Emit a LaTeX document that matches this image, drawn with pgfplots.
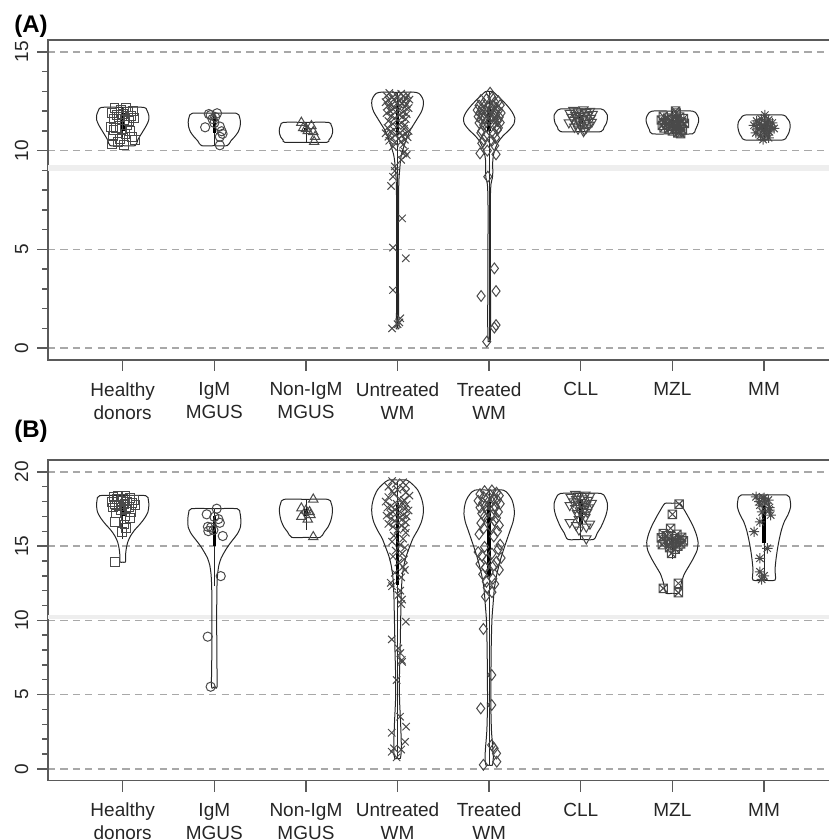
\documentclass[border=0pt]{standalone}
\usepackage{fontspec}
\setmainfont{Liberation Sans}
\usepackage{pgfplots}
\pgfplotsset{compat=1.18}
\usetikzlibrary{plotmarks}

\definecolor{ptc}{HTML}{4A4A4A}
\definecolor{gridc}{HTML}{A8A8A8}
\definecolor{bandc}{HTML}{EEEEEE}
\definecolor{axc}{HTML}{5A5A5A}
\definecolor{txtc}{HTML}{262626}

\pgfdeclareplotmark{boxx}{%
 \pgfpathrectangle{\pgfpoint{-\pgfplotmarksize}{-\pgfplotmarksize}}{\pgfpoint{2\pgfplotmarksize}{2\pgfplotmarksize}}%
 \pgfpathmoveto{\pgfpoint{-\pgfplotmarksize}{-\pgfplotmarksize}}\pgfpathlineto{\pgfpoint{\pgfplotmarksize}{\pgfplotmarksize}}%
 \pgfpathmoveto{\pgfpoint{-\pgfplotmarksize}{\pgfplotmarksize}}\pgfpathlineto{\pgfpoint{\pgfplotmarksize}{-\pgfplotmarksize}}%
 \pgfusepathqstroke}
\pgfdeclareplotmark{ast8}{%
 \pgfpathmoveto{\pgfpoint{-\pgfplotmarksize}{0pt}}\pgfpathlineto{\pgfpoint{\pgfplotmarksize}{0pt}}%
 \pgfpathmoveto{\pgfpoint{0pt}{-\pgfplotmarksize}}\pgfpathlineto{\pgfpoint{0pt}{\pgfplotmarksize}}%
 \pgfpathmoveto{\pgfpoint{-.7071\pgfplotmarksize}{-.7071\pgfplotmarksize}}\pgfpathlineto{\pgfpoint{.7071\pgfplotmarksize}{.7071\pgfplotmarksize}}%
 \pgfpathmoveto{\pgfpoint{-.7071\pgfplotmarksize}{.7071\pgfplotmarksize}}\pgfpathlineto{\pgfpoint{.7071\pgfplotmarksize}{-.7071\pgfplotmarksize}}%
 \pgfusepathqstroke}

\pgfplotsset{
 vio/.style={black!85, line width=0.5pt, no marks, smooth, tension=0.45},
 pts/.style={only marks, ptc, line width=0.5pt, mark options={solid, fill=none}},
 whisk/.style={black!85, line width=0.4pt, no marks},
 iqr/.style={black, line width=1.8pt, no marks},
 panel/.style={
  scale only axis, width=393.5pt,
  xmin=0.1846, xmax=8.775,
  xtick={1,...,8},
  xticklabels={{Healthy\\donors},{IgM\\MGUS},{Non-IgM\\MGUS},{Untreated\\WM},{Treated\\WM},CLL,MZL,MM},
  xticklabel style={align=center, font=\fontsize{9.5}{11.5}\selectfont, text=txtc, inner sep=0pt, yshift=-5.5pt},
  yticklabel style={rotate=90, anchor=south, font=\fontsize{9.5}{11.5}\selectfont, text=txtc, inner sep=0pt, yshift=4.2pt},
  /pgf/number format/assume math mode=true,
  tick pos=left, tick align=outside,
  major tick length=5.5pt, minor tick length=3pt,
  minor y tick num=4,
  ymajorgrids,
  major grid style={gridc, line width=0.7pt, dash pattern=on 3.6pt off 2.6pt},
  axis line style={axc, line width=0.7pt},
  every tick/.style={axc, line width=0.7pt},
 },
}

\newcommand{\violin}[2]{%
 \addplot[vio] table[row sep=\\, x expr={#1+\thisrowno{0}}, y index=1] {#2};
 \addplot[vio] table[row sep=\\, x expr={#1-\thisrowno{0}}, y index=1] {#2};
}

\begin{document}
\begin{tikzpicture}
\useasboundingbox (0,0) rectangle (414.5pt,420pt);

%================ Panel A
\begin{axis}[panel, at={(24pt,240pt)}, anchor=south west, height=160pt,
 ymin=-0.6, ymax=15.6, ytick={0,5,10,15}]
\addplot[draw=none, fill=bandc] coordinates {(0,8.99) (9,8.99) (9,9.28) (0,9.28)} -- cycle;

\violin{1}{0 12.19\\0.229 12.19\\0.262 12.06\\0.284 11.80\\0.284 11.55\\0.262 11.30\\0.229 11.04\\0.196 10.79\\0.164 10.54\\0.136 10.25\\0 10.25\\}
\violin{2}{0 11.89\\0.24 11.89\\0.275 11.70\\0.285 11.45\\0.28 11.20\\0.26 10.94\\0.22 10.69\\0.18 10.49\\0.14 10.25\\0 10.25\\}
\violin{3}{0 11.43\\0.245 11.43\\0.275 11.30\\0.29 11.10\\0.29 10.90\\0.275 10.69\\0.25 10.54\\0.23 10.42\\0 10.42\\}
\violin{4}{0 12.95\\0.20 12.95\\0.25 12.82\\0.28 12.56\\0.28 12.26\\0.26 11.96\\0.22 11.65\\0.18 11.35\\0.14 11.05\\0.11 10.74\\0.085 10.44\\0.065 10.14\\0.045 9.84\\0.033 9.53\\0.025 9.12\\0.015 8.52\\0.011 7.50\\0.01 4.46\\0.011 1.93\\0.015 1.43\\0.017 1.12\\0.013 0.97\\0 0.97\\}
\violin{5}{0 12.99\\0.04 12.99\\0.08 12.82\\0.14 12.56\\0.20 12.26\\0.25 11.96\\0.28 11.65\\0.27 11.35\\0.22 11.05\\0.15 10.74\\0.10 10.44\\0.07 10.14\\0.05 9.84\\0.04 9.53\\0.038 9.22\\0.04 8.92\\0.035 8.61\\0.02 8.31\\0.013 7.50\\0.013 4.97\\0.015 2.44\\0.017 1.43\\0.013 0.67\\0.011 0.33\\0 0.33\\}
\violin{6}{0 12.11\\0.22 12.11\\0.265 11.98\\0.29 11.80\\0.29 11.60\\0.28 11.39\\0.255 11.19\\0.22 10.96\\0 10.96\\}
\violin{7}{0 12.0\\0.22 12.0\\0.265 11.85\\0.285 11.65\\0.285 11.45\\0.27 11.25\\0.25 11.05\\0.22 10.85\\0 10.85\\}
\violin{8}{0 11.80\\0.21 11.80\\0.25 11.65\\0.28 11.45\\0.285 11.17\\0.27 10.89\\0.245 10.69\\0.21 10.54\\0 10.54\\}

% whiskers and interquartile bars
\addplot[whisk] coordinates {(1,10.3) (1,12.19)};  \addplot[iqr] coordinates {(1,11.0) (1,11.9)};
\addplot[whisk] coordinates {(2,10.25) (2,11.89)}; \addplot[iqr] coordinates {(2,10.9) (2,11.8)};
\addplot[whisk] coordinates {(3,10.45) (3,11.43)}; \addplot[iqr] coordinates {(3,10.95) (3,11.15)};
\addplot[whisk] coordinates {(4,1.0) (4,12.95)};   \addplot[iqr] coordinates {(4,10.8) (4,12.4)};
\addplot[whisk] coordinates {(5,0.33) (5,12.99)};  \addplot[iqr] coordinates {(5,11.0) (5,12.2)};
\addplot[whisk] coordinates {(6,10.96) (6,12.1)};  \addplot[iqr] coordinates {(6,11.35) (6,11.8)};
\addplot[whisk] coordinates {(7,10.85) (7,12.0)};  \addplot[iqr] coordinates {(7,11.2) (7,11.6)};
\addplot[whisk] coordinates {(8,10.55) (8,11.8)};  \addplot[iqr] coordinates {(8,10.95) (8,11.35)};

% points
\addplot[pts, mark=square, mark size=2.2pt] coordinates {
(0.91,12.15) (1.04,12.18) (0.98,12.05) (1.11,12.0) (0.88,11.9) (1.06,11.95) (1.00,11.85) (0.94,11.8) (1.09,11.75) (0.96,11.7) (1.12,11.65) (0.90,11.6) (1.02,11.55) (1.07,11.5)
(0.87,11.2) (1.05,11.3) (0.99,11.1) (0.90,11.05) (1.08,11.0) (0.93,11.15)
(1.03,10.85) (0.89,10.75) (1.10,10.7) (0.97,10.6) (1.13,10.55) (0.95,10.45) (0.88,10.35) (1.01,10.3)};
\addplot[pts, mark=o, mark size=2.3pt] coordinates {
(1.90,11.18) (1.94,11.85) (1.96,11.8) (2.03,11.89) (2.01,11.7) (2.06,11.22) (2.08,10.98) (2.09,10.85) (2.06,10.7) (2.06,10.27) (2.0,11.4) (1.98,11.6)};
\addplot[pts, mark=triangle, mark size=2.7pt] coordinates {
(2.95,11.42) (3.0,11.1) (3.06,11.25) (3.08,10.95) (3.10,10.7) (3.09,10.45) (3.02,11.0) (2.97,11.15)};
\addplot[pts, mark=x, mark size=2.6pt] coordinates {
(3.91,12.92) (4.04,12.88) (3.98,12.85) (4.11,12.8) (3.88,12.78) (4.06,12.75) (4.00,12.7) (3.94,12.68) (4.09,12.65) (3.96,12.6)
(4.13,12.58) (3.90,12.55) (4.02,12.5) (4.07,12.48) (3.87,12.45) (4.05,12.4) (3.99,12.38) (4.10,12.35) (3.93,12.3) (4.03,12.28)
(3.89,12.25) (4.08,12.2) (3.97,12.18) (4.12,12.15) (3.95,12.1) (4.01,12.05) (3.92,12.0) (4.06,11.95) (3.88,11.9) (4.10,11.85)
(4.02,11.8) (3.93,11.75) (4.05,11.7) (3.97,11.65) (4.09,11.6) (3.90,11.5) (4.04,11.4) (3.95,11.35) (4.08,11.3) (4.00,11.25)
(3.89,11.15) (4.07,11.1) (3.96,11.05) (4.12,11.0) (3.92,10.95) (4.03,10.9) (3.87,10.88) (4.09,10.85) (3.98,10.8) (4.05,10.75)
(3.90,10.7) (4.11,10.68) (3.94,10.65) (4.01,10.6) (4.08,10.55) (3.91,10.5) (4.04,10.45) (3.97,10.4) (4.06,10.3) (3.95,10.2)
(4.08,9.95) (4.06,9.86) (4.10,9.78) (4.04,9.53) (3.97,9.2)
(3.97,8.97) (3.95,8.68) (3.93,8.21) (4.05,6.57) (3.95,5.09) (4.09,4.55) (3.95,2.94) (4.03,1.51) (4.00,1.21) (3.94,1.0) (4.02,1.3)};
\addplot[pts, mark=diamond, mark size=2.7pt] coordinates {
(5.01,12.93) (4.91,12.56) (5.10,12.5) (5.03,12.7) (4.97,12.6) (5.06,12.45) (4.94,12.4) (5.00,12.35) (5.12,12.3) (4.89,12.28)
(5.04,12.25) (4.98,12.2) (5.08,12.15) (4.92,12.12) (5.02,12.1) (4.87,12.05) (5.10,12.02) (4.96,12.0) (5.06,11.95) (4.90,11.92)
(5.13,11.9) (4.99,11.85) (5.07,11.82) (4.93,11.8) (5.03,11.75) (4.88,11.72) (5.11,11.7) (4.95,11.65) (5.05,11.62) (4.91,11.6)
(5.01,11.55) (5.09,11.5) (4.97,11.45) (5.12,11.42) (4.89,11.4) (5.04,11.35) (4.94,11.3) (5.08,11.25) (4.98,11.2) (5.10,11.15)
(5.09,11.05) (4.92,11.0) (4.91,10.9) (5.05,10.85) (4.96,10.75) (5.07,10.65) (4.94,10.55) (5.03,10.5) (4.92,10.37) (5.06,10.25)
(4.90,9.86) (5.075,9.81) (4.98,10.0)
(4.985,8.68) (5.057,4.04) (4.912,2.64) (5.075,2.89) (5.075,1.17) (5.057,1.04) (4.974,0.33)};
\addplot[pts, mark=triangle, mark size=2.7pt, mark options={rotate=180}] coordinates {
(6.03,12.08) (5.92,12.05) (6.10,12.0) (5.97,11.98) (6.06,11.95) (5.88,11.9) (6.01,11.88) (6.13,11.85) (5.94,11.8) (6.08,11.78)
(5.99,11.75) (6.04,11.72) (5.90,11.7) (6.11,11.65) (5.96,11.62) (6.02,11.6) (5.92,11.55) (6.07,11.52) (5.98,11.5) (6.12,11.45)
(5.87,11.42) (6.05,11.4) (5.95,11.35) (6.09,11.3) (6.00,11.25) (5.93,11.2) (6.06,11.15) (5.97,11.1) (6.04,11.05) (6.03,10.98)};
\addplot[pts, mark=boxx, mark size=2.1pt] coordinates {
(7.035,12.0) (7.04,11.9) (6.90,11.75) (7.08,11.7) (6.95,11.65) (7.12,11.62) (7.00,11.6) (6.88,11.55) (7.05,11.52) (6.97,11.5)
(7.10,11.45) (6.92,11.42) (7.02,11.4) (7.13,11.38) (6.94,11.35) (7.07,11.3) (6.89,11.28) (7.03,11.25) (6.98,11.22) (7.09,11.2)
(6.91,11.15) (7.05,11.12) (6.96,11.1) (7.11,11.05) (7.00,11.0) (7.08,10.95) (7.06,10.9) (7.09,10.86)};
\addplot[pts, mark=ast8, mark size=2.6pt] coordinates {
(8.01,11.8) (7.97,11.6) (8.05,11.55) (7.92,11.5) (8.02,11.45) (8.09,11.4) (7.95,11.35) (8.04,11.3) (7.89,11.28) (8.00,11.25)
(8.07,11.2) (7.97,11.15) (8.11,11.12) (7.93,11.1) (8.03,11.05) (7.99,11.0) (8.06,10.95) (7.91,10.9) (8.02,10.85) (7.96,10.75)
(8.05,10.65) (7.99,10.56)};
\end{axis}

%================ Panel B
\begin{axis}[panel, at={(24pt,29.65pt)}, anchor=south west, height=160.35pt,
 ymin=-0.8, ymax=20.8, ytick={0,5,10,15,20}]
\addplot[draw=none, fill=bandc] coordinates {(0,10.07) (9,10.07) (9,10.36) (0,10.36)} -- cycle;

\violin{1}{0 18.40\\0.25 18.40\\0.28 18.10\\0.285 17.70\\0.275 17.29\\0.24 16.89\\0.19 16.49\\0.13 16.08\\0.085 15.68\\0.055 15.27\\0.04 14.87\\0.032 14.46\\0.03 13.93\\0 13.93\\}
\violin{2}{0 17.52\\0.25 17.52\\0.28 17.23\\0.29 16.75\\0.285 16.28\\0.25 15.81\\0.20 15.41\\0.15 15.0\\0.11 14.60\\0.075 14.20\\0.05 13.72\\0.035 13.05\\0.028 12.04\\0.026 10.02\\0.028 7.33\\0.03 5.53\\0 5.53\\}
\violin{3}{0 18.15\\0.24 18.15\\0.275 17.90\\0.29 17.50\\0.285 17.09\\0.27 16.69\\0.24 16.28\\0.2 15.95\\0.155 15.59\\0 15.59\\}
\violin{4}{0 19.45\\0.10 19.45\\0.16 19.18\\0.22 18.78\\0.26 18.24\\0.28 17.70\\0.28 17.16\\0.26 16.62\\0.22 16.08\\0.17 15.54\\0.135 15.0\\0.095 14.33\\0.068 13.66\\0.05 12.85\\0.04 11.70\\0.034 10.02\\0.028 8.0\\0.02 5.98\\0.022 4.63\\0.032 3.29\\0.04 1.94\\0.04 1.13\\0.03 0.70\\0 0.70\\}
\violin{5}{0 18.77\\0.155 18.77\\0.21 18.50\\0.25 18.10\\0.27 17.63\\0.275 17.16\\0.26 16.62\\0.23 16.08\\0.20 15.54\\0.17 15.0\\0.135 14.33\\0.105 13.66\\0.075 12.85\\0.055 12.04\\0.042 11.03\\0.03 10.02\\0.022 8.0\\0.018 4.63\\0.025 2.61\\0.04 1.40\\0.045 0.73\\0.035 0.25\\0 0.25\\}
\violin{6}{0 18.55\\0.22 18.55\\0.265 18.30\\0.29 17.90\\0.29 17.50\\0.275 17.09\\0.25 16.69\\0.22 16.28\\0.18 15.88\\0.14 15.45\\0 15.45\\}
\violin{7}{0 17.88\\0.08 17.88\\0.13 17.43\\0.18 16.89\\0.225 16.35\\0.26 15.81\\0.28 15.27\\0.27 14.73\\0.23 14.19\\0.18 13.65\\0.13 13.12\\0.10 12.58\\0.085 12.17\\0.07 11.82\\0 11.82\\}
\violin{8}{0 18.44\\0.25 18.44\\0.285 18.10\\0.29 17.63\\0.265 17.16\\0.22 16.62\\0.19 16.08\\0.165 15.41\\0.145 14.73\\0.13 14.06\\0.12 13.39\\0.12 12.71\\0 12.71\\}

\addplot[whisk] coordinates {(1,15.5) (1,18.4)};   \addplot[iqr] coordinates {(1,17.0) (1,18.0)};
\addplot[whisk] coordinates {(2,12.3) (2,17.52)};  \addplot[iqr] coordinates {(2,15.0) (2,17.0)};
\addplot[whisk] coordinates {(3,16.1) (3,18.15)};  \addplot[iqr] coordinates {(3,17.0) (3,17.5)};
\addplot[whisk] coordinates {(4,0.75) (4,19.4)};   \addplot[iqr] coordinates {(4,12.4) (4,17.9)};
\addplot[whisk] coordinates {(5,0.25) (5,18.77)};  \addplot[iqr] coordinates {(5,12.9) (5,18.0)};
\addplot[whisk] coordinates {(6,15.45) (6,18.55)}; \addplot[iqr] coordinates {(6,16.5) (6,18.1)};
\addplot[whisk] coordinates {(7,14.1) (7,16.1)};   \addplot[iqr] coordinates {(7,15.0) (7,15.6)};
\addplot[whisk] coordinates {(8,12.75) (8,18.4)};  \addplot[iqr] coordinates {(8,15.2) (8,17.7)};

\addplot[pts, mark=square, mark size=2.2pt] coordinates {
(0.95,18.38) (1.03,18.35) (0.90,18.3) (1.08,18.25) (1.00,18.2) (0.94,18.15) (1.12,18.1) (0.98,18.05) (1.05,18.0) (0.88,17.95)
(1.10,17.9) (1.02,17.85) (0.92,17.8) (1.14,17.75) (0.96,17.7) (1.07,17.65) (0.89,17.6) (1.04,17.5) (0.98,17.4) (1.09,17.3)
(0.93,17.2) (1.03,17.0) (1.08,16.87) (0.92,16.64) (1.02,16.45) (1.04,16.2) (0.99,15.97) (0.916,13.93)};
\addplot[pts, mark=o, mark size=2.3pt] coordinates {
(2.026,17.52) (1.917,17.14) (2.00,16.97) (2.044,16.82) (2.06,16.57) (1.93,16.3) (1.964,16.26) (1.99,16.08) (1.935,16.01) (2.092,15.68)
(2.07,12.98) (1.928,8.9) (1.96,5.53)};
\addplot[pts, mark=triangle, mark size=2.7pt] coordinates {
(3.08,18.15) (2.95,17.55) (3.00,17.4) (3.04,17.3) (3.05,17.1) (2.95,16.98) (3.02,16.8) (3.08,15.62)};
\addplot[pts, mark=x, mark size=2.6pt] coordinates {
(3.94,19.38) (4.06,19.3) (3.98,19.2) (4.09,19.1) (3.90,19.0) (4.06,18.9) (4.00,18.8) (3.94,18.7) (4.09,18.6) (3.96,18.5)
(4.13,18.4) (3.90,18.3) (4.02,18.2) (4.07,18.1) (3.87,18.0) (4.05,17.9) (3.99,17.85) (4.10,17.8) (3.93,17.7) (4.03,17.65)
(3.89,17.6) (4.08,17.5) (3.97,17.45) (4.12,17.4) (3.95,17.3) (4.01,17.25) (3.92,17.2) (4.06,17.1) (3.88,17.05) (4.10,17.0)
(4.02,16.9) (3.93,16.85) (4.05,16.8) (3.97,16.7) (4.09,16.6) (3.90,16.5) (4.04,16.4) (3.95,16.3) (4.08,16.2) (4.00,16.1)
(4.09,15.9) (3.96,15.7) (4.06,15.5) (3.94,15.3) (4.03,15.1) (4.08,14.9) (3.98,14.7) (4.05,14.5) (3.95,14.3) (4.07,14.1)
(4.01,13.9) (4.06,13.6) (4.08,13.39) (3.97,13.2) (4.04,12.9) (3.926,12.53) (3.94,12.3) (4.03,12.0) (4.01,11.7) (4.05,11.4) (4.04,11.1)
(4.09,9.91) (3.937,8.72) (4.01,8.11) (4.03,7.8) (4.046,7.33) (4.05,7.21) (3.99,5.98) (4.027,3.51) (4.093,2.84) (3.937,2.43)
(4.082,1.82) (3.96,1.38) (3.937,1.15) (4.04,1.3) (3.99,0.77)};
\addplot[pts, mark=diamond, mark size=2.7pt] coordinates {
(5.03,18.75) (4.95,18.7) (5.08,18.6) (4.90,18.5) (5.01,18.45) (5.11,18.4) (4.94,18.3) (5.05,18.25) (4.98,18.2) (5.09,18.1)
(4.88,18.05) (5.03,18.0) (4.93,17.9) (5.12,17.85) (5.00,17.8) (4.96,17.7) (5.07,17.65) (4.90,17.6) (5.05,17.5) (4.98,17.4)
(5.10,17.3) (4.92,17.2) (5.04,17.1) (4.95,17.0) (5.08,16.9) (4.99,16.8) (5.06,16.7) (4.91,16.55) (5.11,16.4) (5.02,16.3)
(4.94,16.2) (5.09,16.0) (4.89,15.8) (5.05,15.65)
(5.12,15.1) (4.95,14.95) (5.10,14.8) (4.88,14.6) (5.03,14.5) (4.92,14.35) (5.13,14.2) (4.98,14.1) (5.08,13.95) (4.90,13.8)
(5.05,13.7) (4.96,13.55) (5.11,13.4) (5.00,13.25) (4.93,13.1)
(5.04,12.8) (4.97,12.6) (5.06,12.45) (4.98,12.2) (5.03,11.9) (4.96,11.6)
(4.937,9.42) (5.028,6.32) (4.908,4.07) (5.028,4.3) (5.028,1.6) (5.054,1.38) (5.08,1.04) (5.083,0.48) (4.937,0.27)};
\addplot[pts, mark=triangle, mark size=2.7pt, mark options={rotate=180}] coordinates {
(5.94,18.5) (6.05,18.45) (5.98,18.4) (6.10,18.35) (5.89,18.3) (6.03,18.2) (5.95,18.15) (6.08,18.1) (5.92,18.0) (6.01,17.95)
(6.12,17.9) (5.97,17.85) (6.06,17.8) (5.88,17.75) (6.02,17.7) (6.09,17.6) (5.94,17.55) (6.04,17.5) (5.99,17.4) (6.07,17.3)
(5.96,17.2) (6.02,17.1) (6.05,16.95) (5.98,16.8) (5.88,16.6) (6.10,16.5) (5.95,16.4) (6.06,16.3) (5.98,16.1) (6.06,15.5)};
\addplot[pts, mark=boxx, mark size=2.1pt] coordinates {
(7.073,17.83) (7.00,17.14) (6.98,16.2) (6.90,15.85) (7.05,15.8) (6.94,15.7) (7.10,15.6) (6.88,15.55) (7.02,15.5) (7.08,15.45)
(6.96,15.4) (7.12,15.35) (6.92,15.3) (7.04,15.25) (6.99,15.2) (7.09,15.15) (6.89,15.1) (7.06,15.0) (6.97,14.9) (7.03,14.8)
(6.99,14.51) (6.90,12.15) (7.065,12.49) (7.065,11.86)};
\addplot[pts, mark=ast8, mark size=2.6pt] coordinates {
(7.913,18.32) (8.00,18.25) (7.99,18.21) (8.047,18.1) (7.95,18.0) (8.02,17.9) (7.956,17.76) (8.06,17.6) (8.058,17.43) (7.98,17.3)
(8.073,17.09) (7.956,16.64) (7.891,15.97) (8.036,14.85) (7.956,14.18) (7.956,13.27) (7.975,12.76) (8.00,13.0)};
\end{axis}

\node[anchor=base west, inner sep=0pt, font=\bfseries\fontsize{12}{14}\selectfont, text=black] at (7pt,403.5pt) {(A)};
\node[anchor=base west, inner sep=0pt, font=\bfseries\fontsize{12}{14}\selectfont, text=black] at (7pt,201.2pt) {(B)};
\end{tikzpicture}
\end{document}
